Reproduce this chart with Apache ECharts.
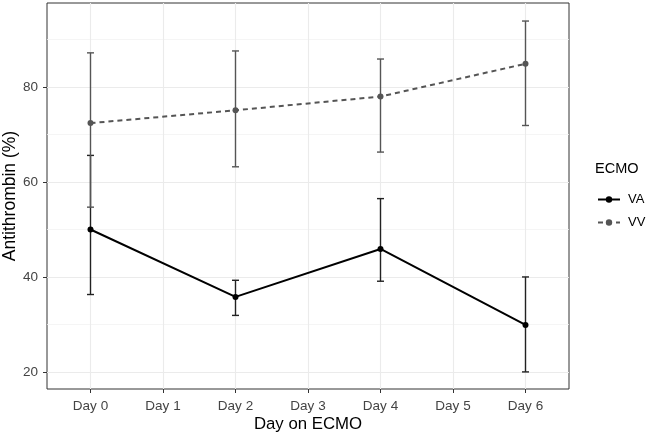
<!DOCTYPE html>
<html>
<head>
<meta charset="utf-8">
<script src="https://cdn.jsdelivr.net/npm/echarts@6/dist/echarts.min.js"></script>
<style>html,body{margin:0;padding:0;background:#fff}#c{width:649px;height:436px}</style>
</head>
<body>
<div id="c"></div>
<script>
var dayTicks = [0, 1, 2, 3, 4, 5, 6];
var dayLabels = ['Day 0', 'Day 1', 'Day 2', 'Day 3', 'Day 4', 'Day 5', 'Day 6'];
var days = [0, 2, 4, 6];
var vaMean = [50.0, 35.8, 45.9, 29.9];
var vaLow = [36.3, 31.9, 39.1, 20.0];
var vaHigh = [65.6, 39.3, 56.5, 40.0];
var vvMean = [72.4, 75.1, 78.0, 84.9];
var vvLow = [54.7, 63.2, 66.3, 71.9];
var vvHigh = [87.2, 87.6, 85.9, 93.9];
var yMajor = [20, 40, 60, 80];
var yMinor = [30, 50, 70, 90];

var FONT = 'Liberation Sans, Arial, sans-serif';

function pts(ys) { return days.map(function (d, i) { return [d, ys[i]]; }); }
function bars(lo, hi) { return days.map(function (d, i) { return [d, lo[i], hi[i]]; }); }

function errRender(color) {
  return function (params, api) {
    var x = api.value(0);
    var lo = api.coord([x, api.value(1)]);
    var hi = api.coord([x, api.value(2)]);
    var hw = 3.5;
    var st = { stroke: color, lineWidth: 1.4 };
    return {
      type: 'group',
      children: [
        { type: 'line', shape: { x1: lo[0], y1: lo[1], x2: hi[0], y2: hi[1] }, style: st },
        { type: 'line', shape: { x1: lo[0] - hw, y1: lo[1], x2: lo[0] + hw, y2: lo[1] }, style: st },
        { type: 'line', shape: { x1: hi[0] - hw, y1: hi[1], x2: hi[0] + hw, y2: hi[1] }, style: st }
      ]
    };
  };
}

var gridLines = [];
yMajor.forEach(function (v) { gridLines.push({ yAxis: v, lineStyle: { color: '#ebebeb', width: 1.1, type: 'solid' } }); });
yMinor.forEach(function (v) { gridLines.push({ yAxis: v, lineStyle: { color: '#f3f3f3', width: 0.8, type: 'solid' } }); });
dayTicks.forEach(function (v) { gridLines.push({ xAxis: v, lineStyle: { color: '#ebebeb', width: 1.1, type: 'solid' } }); });

var chart = echarts.init(document.getElementById('c'), null, { renderer: 'canvas' });
chart.setOption({
  animation: false,
  textStyle: { fontFamily: FONT },
  grid: { left: 47, right: 80, top: 3, bottom: 47, outerBoundsMode: 'none', containLabel: false, show: true, borderColor: '#333', borderWidth: 1, backgroundColor: 'transparent' },
  title: {
    text: 'ECMO', left: 590, top: 156,
    textStyle: { fontFamily: FONT, fontSize: 14.5, fontWeight: 'normal', color: '#000' }
  },
  legend: {
    orient: 'vertical', left: 592, top: 188, itemWidth: 22, itemHeight: 8, itemGap: 10,
    textStyle: { fontFamily: FONT, fontSize: 13, color: '#000', padding: [0, 0, 0, 3] },
    data: ['VA', 'VV']
  },
  xAxis: {
    type: 'value', min: -0.6, max: 6.6,
    name: 'Day on ECMO', nameLocation: 'middle', nameGap: 27, nameMoveOverlap: false,
    nameTextStyle: { fontFamily: FONT, fontSize: 16.8, color: '#000' },
    axisLine: { show: false, onZero: false },
    splitLine: { show: false },
    axisTick: { show: true, customValues: dayTicks, length: 4, lineStyle: { color: '#333' } },
    axisLabel: {
      customValues: dayTicks, margin: 10, fontSize: 13.5, color: '#444', fontFamily: FONT,
      formatter: function (v) { var i = dayTicks.indexOf(Math.round(v)); return i >= 0 ? dayLabels[i] : ''; }
    }
  },
  yAxis: {
    type: 'value', min: 16.4, max: 97.7,
    name: 'Antithrombin (%)', nameLocation: 'middle', nameGap: 28, nameMoveOverlap: false,
    nameTextStyle: { fontFamily: FONT, fontSize: 17.5, color: '#000' },
    axisLine: { show: false, onZero: false },
    splitLine: { show: false },
    axisTick: { show: true, customValues: yMajor, length: 4, lineStyle: { color: '#333' } },
    axisLabel: { customValues: yMajor, margin: 9, fontSize: 13.5, color: '#444', fontFamily: FONT }
  },
  series: [
    {
      name: 'grid', type: 'line', data: [], silent: true, z: 0,
      markLine: { silent: true, z: 0, symbol: 'none', label: { show: false }, animation: false, data: gridLines }
    },
    {
      name: 'VA', type: 'line', data: pts(vaMean), z: 5,
      symbol: 'circle', symbolSize: 6,
      lineStyle: { color: '#000', width: 2 },
      itemStyle: { color: '#000' }
    },
    {
      name: 'VV', type: 'line', data: pts(vvMean), z: 5,
      symbol: 'circle', symbolSize: 6,
      lineStyle: { color: '#555', width: 2, type: [5, 4] },
      itemStyle: { color: '#555' }
    },
    {
      name: 'VAerr', type: 'custom', data: bars(vaLow, vaHigh), z: 4,
      renderItem: errRender('#222'), encode: { x: 0, y: [1, 2] }
    },
    {
      name: 'VVerr', type: 'custom', data: bars(vvLow, vvHigh), z: 4,
      renderItem: errRender('#555'), encode: { x: 0, y: [1, 2] }
    }
  ]
});
</script>
</body>
</html>
